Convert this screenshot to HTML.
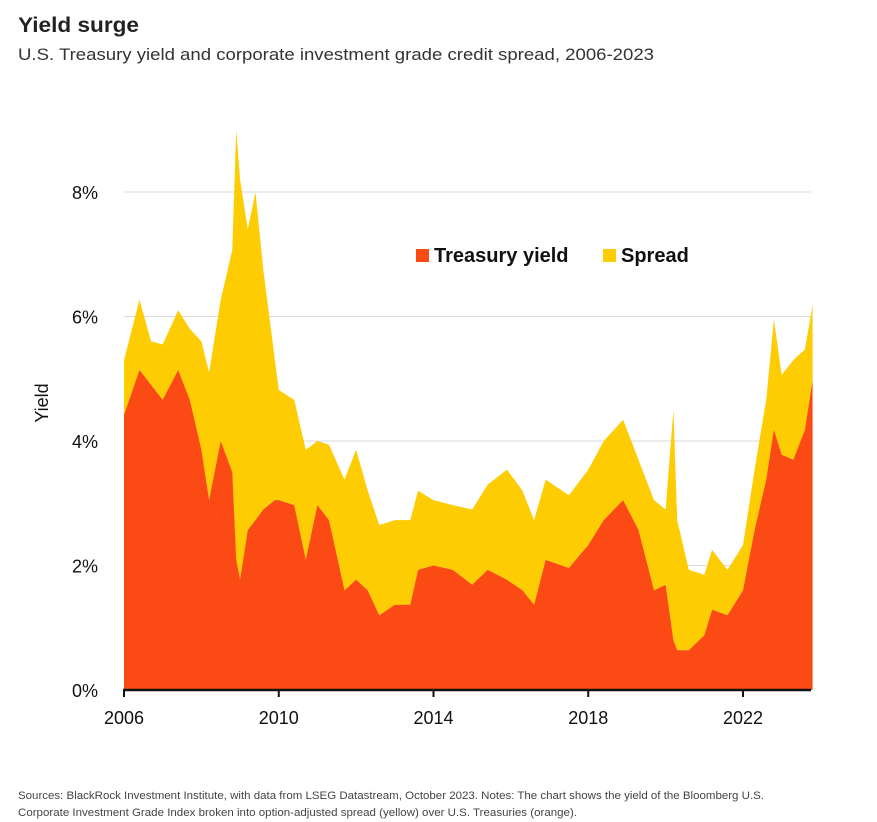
<!DOCTYPE html>
<html><head><meta charset="utf-8"><style>
body{margin:0;background:#fff;}
svg{display:block;font-family:"Liberation Sans",sans-serif;}
</style></head><body>
<svg id="chart" width="877" height="822">
<text x="18" y="32" font-size="21" font-weight="bold" fill="#222" textLength="121" lengthAdjust="spacingAndGlyphs">Yield surge</text>
<text x="18" y="60" font-size="17" fill="#333" textLength="636" lengthAdjust="spacingAndGlyphs">U.S. Treasury yield and corporate investment grade credit spread, 2006-2023</text>
<g id="grid"></g>
<g id="areas"></g>
<g id="axes"></g>
<text transform="translate(48,403) rotate(-90)" text-anchor="middle" font-size="18" fill="#111">Yield</text>
<g>
<rect x="416" y="249" width="13" height="13" fill="#fc4a14"/>
<text x="434" y="262" font-size="20" font-weight="bold" fill="#111">Treasury yield</text>
<rect x="603" y="249" width="13" height="13" fill="#fdcc02"/>
<text x="621" y="262" font-size="20" font-weight="bold" fill="#111">Spread</text>
</g>
<text x="18" y="799" font-size="11" fill="#444" textLength="746" lengthAdjust="spacingAndGlyphs">Sources: BlackRock Investment Institute, with data from LSEG Datastream, October 2023. Notes: The chart shows the yield of the Bloomberg U.S.</text>
<text x="18" y="816" font-size="11" fill="#444" textLength="559" lengthAdjust="spacingAndGlyphs">Corporate Investment Grade Index broken into option-adjusted spread (yellow) over U.S. Treasuries (orange).</text>
</svg>
<script>
const dates=[2006.0,2006.4,2006.7,2007.0,2007.4,2007.7,2008.0,2008.2,2008.5,2008.8,2008.9,2009.0,2009.2,2009.4,2009.6,2009.9,2010.0,2010.4,2010.7,2011.0,2011.3,2011.7,2012.0,2012.3,2012.6,2013.0,2013.4,2013.6,2014.0,2014.5,2015.0,2015.4,2015.9,2016.3,2016.6,2016.9,2017.5,2018.0,2018.4,2018.9,2019.3,2019.7,2020.0,2020.2,2020.3,2020.6,2021.0,2021.2,2021.6,2022.0,2022.3,2022.6,2022.8,2023.0,2023.3,2023.6,2023.8];
const treasury=[4.42,5.14,4.9,4.66,5.14,4.66,3.86,3.05,4.0,3.5,2.1,1.77,2.57,2.73,2.9,3.05,3.05,2.97,2.09,2.97,2.73,1.6,1.77,1.6,1.2,1.37,1.37,1.93,2.0,1.93,1.69,1.93,1.77,1.6,1.37,2.09,1.96,2.33,2.73,3.05,2.57,1.6,1.69,0.8,0.64,0.64,0.88,1.29,1.2,1.6,2.57,3.38,4.18,3.78,3.7,4.18,4.98];
const total=[5.3,6.27,5.6,5.55,6.1,5.8,5.6,5.1,6.27,7.07,9.0,8.2,7.4,8.0,6.75,5.3,4.82,4.66,3.86,4.0,3.94,3.38,3.86,3.2,2.65,2.73,2.73,3.2,3.05,2.97,2.9,3.3,3.54,3.2,2.73,3.38,3.13,3.54,4.0,4.34,3.7,3.05,2.9,4.5,2.73,1.93,1.85,2.25,1.93,2.33,3.54,4.66,5.95,5.06,5.3,5.47,6.19];
const yTicks=[0,2,4,6,8];
const xTicks=[2006,2010,2014,2018,2022];
const NS="http://www.w3.org/2000/svg";
const X0=124,X1=811,Y0=690;
const xs=d=>X0+(d-2006)*(743-124)/16;
const ys=v=>Y0-v*62.25;
function mk(tag,attrs,parent){const e=document.createElementNS(NS,tag);for(const k in attrs)e.setAttribute(k,attrs[k]);parent.appendChild(e);return e;}
const grid=document.getElementById('grid'),areas=document.getElementById('areas'),axes=document.getElementById('axes');
yTicks.forEach(t=>{
  if(t>0){const l=mk('line',{x1:X0,x2:X1,y1:ys(t),y2:ys(t),stroke:'#d9d9d9','stroke-width':1},grid);
  
  }
  const tx=mk('text',{x:98,y:ys(t)+7,'text-anchor':'end','font-size':18,fill:'#111'},axes);
  tx.textContent=t+'%';
  
  
});
function areaPath(top,bottom){
  let d='';
  dates.forEach((dt,i)=>{d+=(i?'L':'M')+xs(dt).toFixed(1)+','+ys(top[i]).toFixed(1);});
  for(let i=dates.length-1;i>=0;i--){d+='L'+xs(dates[i]).toFixed(1)+','+ys(bottom?bottom[i]:0).toFixed(1);}
  return d+'Z';
}
const sp=mk('path',{d:areaPath(total,treasury),fill:'#fdcc02'},areas);


const tr=mk('path',{d:areaPath(treasury,null),fill:'#fc4a14'},areas);


const ax=mk('line',{x1:X0-1,x2:X1,y1:Y0,y2:Y0,stroke:'#111','stroke-width':2.5},axes);


xTicks.forEach(t=>{
  const tk=mk('line',{x1:xs(t),x2:xs(t),y1:Y0,y2:Y0+7,stroke:'#111','stroke-width':2},axes);
  
  
  const tx=mk('text',{x:xs(t),y:724,'text-anchor':'middle','font-size':18,fill:'#111'},axes);
  tx.textContent=t;
  
  
});
</script>
</body></html>
